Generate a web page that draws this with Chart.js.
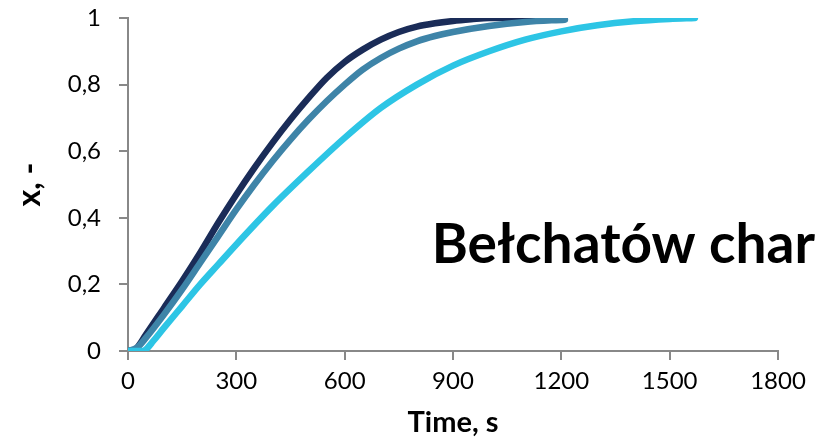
<!DOCTYPE html>
<html>
<head>
<meta charset="utf-8">
<script src="https://cdn.jsdelivr.net/npm/chart.js@4"></script>
<style>
  html, body { margin: 0; padding: 0; background: #fff; }
  #wrap { width: 819px; height: 441px; }
</style>
</head>
<body>
<div id="wrap"><canvas id="chart"></canvas></div>
<script>
// values: time in s, conversion x
const darkTime = [0, 20, 50, 100, 150, 200, 250, 300, 350, 400, 450, 500, 550, 600, 650, 700, 750, 800, 850, 900, 950, 1000, 1100, 1200];
const darkX = [0, 0.005, 0.05, 0.13, 0.21, 0.295, 0.385, 0.47, 0.55, 0.625, 0.695, 0.76, 0.82, 0.868, 0.905, 0.935, 0.958, 0.974, 0.984, 0.991, 0.996, 1, 1, 1];

const midTime = [0, 25, 50, 100, 150, 200, 250, 300, 350, 400, 450, 500, 550, 600, 650, 700, 750, 800, 850, 900, 1000, 1100, 1210];
const midX = [0, 0.01, 0.04, 0.11, 0.185, 0.265, 0.345, 0.425, 0.5, 0.57, 0.635, 0.695, 0.75, 0.8, 0.845, 0.88, 0.908, 0.93, 0.946, 0.958, 0.976, 0.988, 0.995];

const lightTime = [0, 40, 50, 70, 100, 150, 200, 250, 300, 400, 500, 600, 700, 800, 900, 1000, 1100, 1200, 1300, 1400, 1500, 1570];
const lightX = [0, 0, 0.005, 0.03, 0.07, 0.135, 0.2, 0.26, 0.32, 0.435, 0.54, 0.64, 0.73, 0.8, 0.857, 0.9, 0.935, 0.96, 0.978, 0.99, 0.997, 1];

const xTicks = [0, 300, 600, 900, 1200, 1500, 1800];
const yTicks = [0, 0.2, 0.4, 0.6, 0.8, 1];

const toPoints = (t, v) => t.map((tt, i) => ({ x: tt, y: v[i] }));

// big label inside the plot
const labelPlugin = {
  id: 'sampleLabel',
  afterDraw(chart) {
    const ctx = chart.ctx;
    ctx.save();
    ctx.font = 'bold 55px Lato';
    ctx.fillStyle = '#000';
    ctx.textAlign = 'right';
    ctx.textBaseline = 'alphabetic';
    ctx.fillText('Bełchatów char', 815, 263);
    ctx.restore();
  }
};

const axisGrid = {
  drawOnChartArea: false,
  drawTicks: true,
  tickLength: 9,
  color: '#888',
  lineWidth: 2
};

const ctx = document.getElementById('chart').getContext('2d');
const chart = new Chart(ctx, {
  type: 'line',
  data: {
    datasets: [
      {
        data: toPoints(darkTime, darkX),
        borderColor: '#1a2c58',
        order: 3
      },
      {
        data: toPoints(midTime, midX),
        borderColor: '#3e84a8',
        order: 2
      },
      {
        data: toPoints(lightTime, lightX),
        borderColor: '#2dc5e5',
        order: 1
      }
    ]
  },
  options: {
    responsive: true,
    maintainAspectRatio: false,
    animation: false,
    elements: {
      point: { radius: 0 },
      line: { borderWidth: 6.5, cubicInterpolationMode: 'monotone', borderCapStyle: 'round', fill: false }
    },
    layout: {
      padding: { top: 18, right: 41, left: 0, bottom: 0 }
    },
    scales: {
      x: {
        type: 'linear',
        min: 0,
        max: 1800,
        afterFit: (s) => { s.height = 90; s.paddingLeft = 0; s.paddingRight = 0; },
        afterBuildTicks: (s) => { s.ticks = xTicks.map(v => ({ value: v })); },
        grid: axisGrid,
        border: { color: '#888', width: 2 },
        ticks: {
          color: '#000',
          padding: 7,
          font: { family: 'Lato', size: 24 },
          maxRotation: 0,
          callback: (v) => String(v)
        },
        title: {
          display: true,
          text: 'Time, s',
          color: '#000',
          font: { family: 'Lato', size: 29, weight: 'bold' },
          padding: { top: 0, bottom: 1 }
        }
      },
      y: {
        min: 0,
        max: 1,
        afterFit: (s) => { s.width = 128; s.paddingTop = 0; s.paddingBottom = 0; },
        afterBuildTicks: (s) => { s.ticks = yTicks.map(v => ({ value: v })); },
        grid: axisGrid,
        border: { color: '#888', width: 2 },
        ticks: {
          color: '#000',
          padding: 18,
          font: { family: 'Lato', size: 24 },
          callback: (v) => String(v).replace('.', ',')
        },
        title: {
          display: true,
          text: 'x, -',
          color: '#000',
          font: { family: 'Lato', size: 32, weight: 'bold' },
          padding: { top: 10, bottom: 0 }
        }
      }
    },
    plugins: {
      legend: { display: false },
      tooltip: { enabled: false }
    }
  },
  plugins: [labelPlugin]
});
</script>
</body>
</html>
